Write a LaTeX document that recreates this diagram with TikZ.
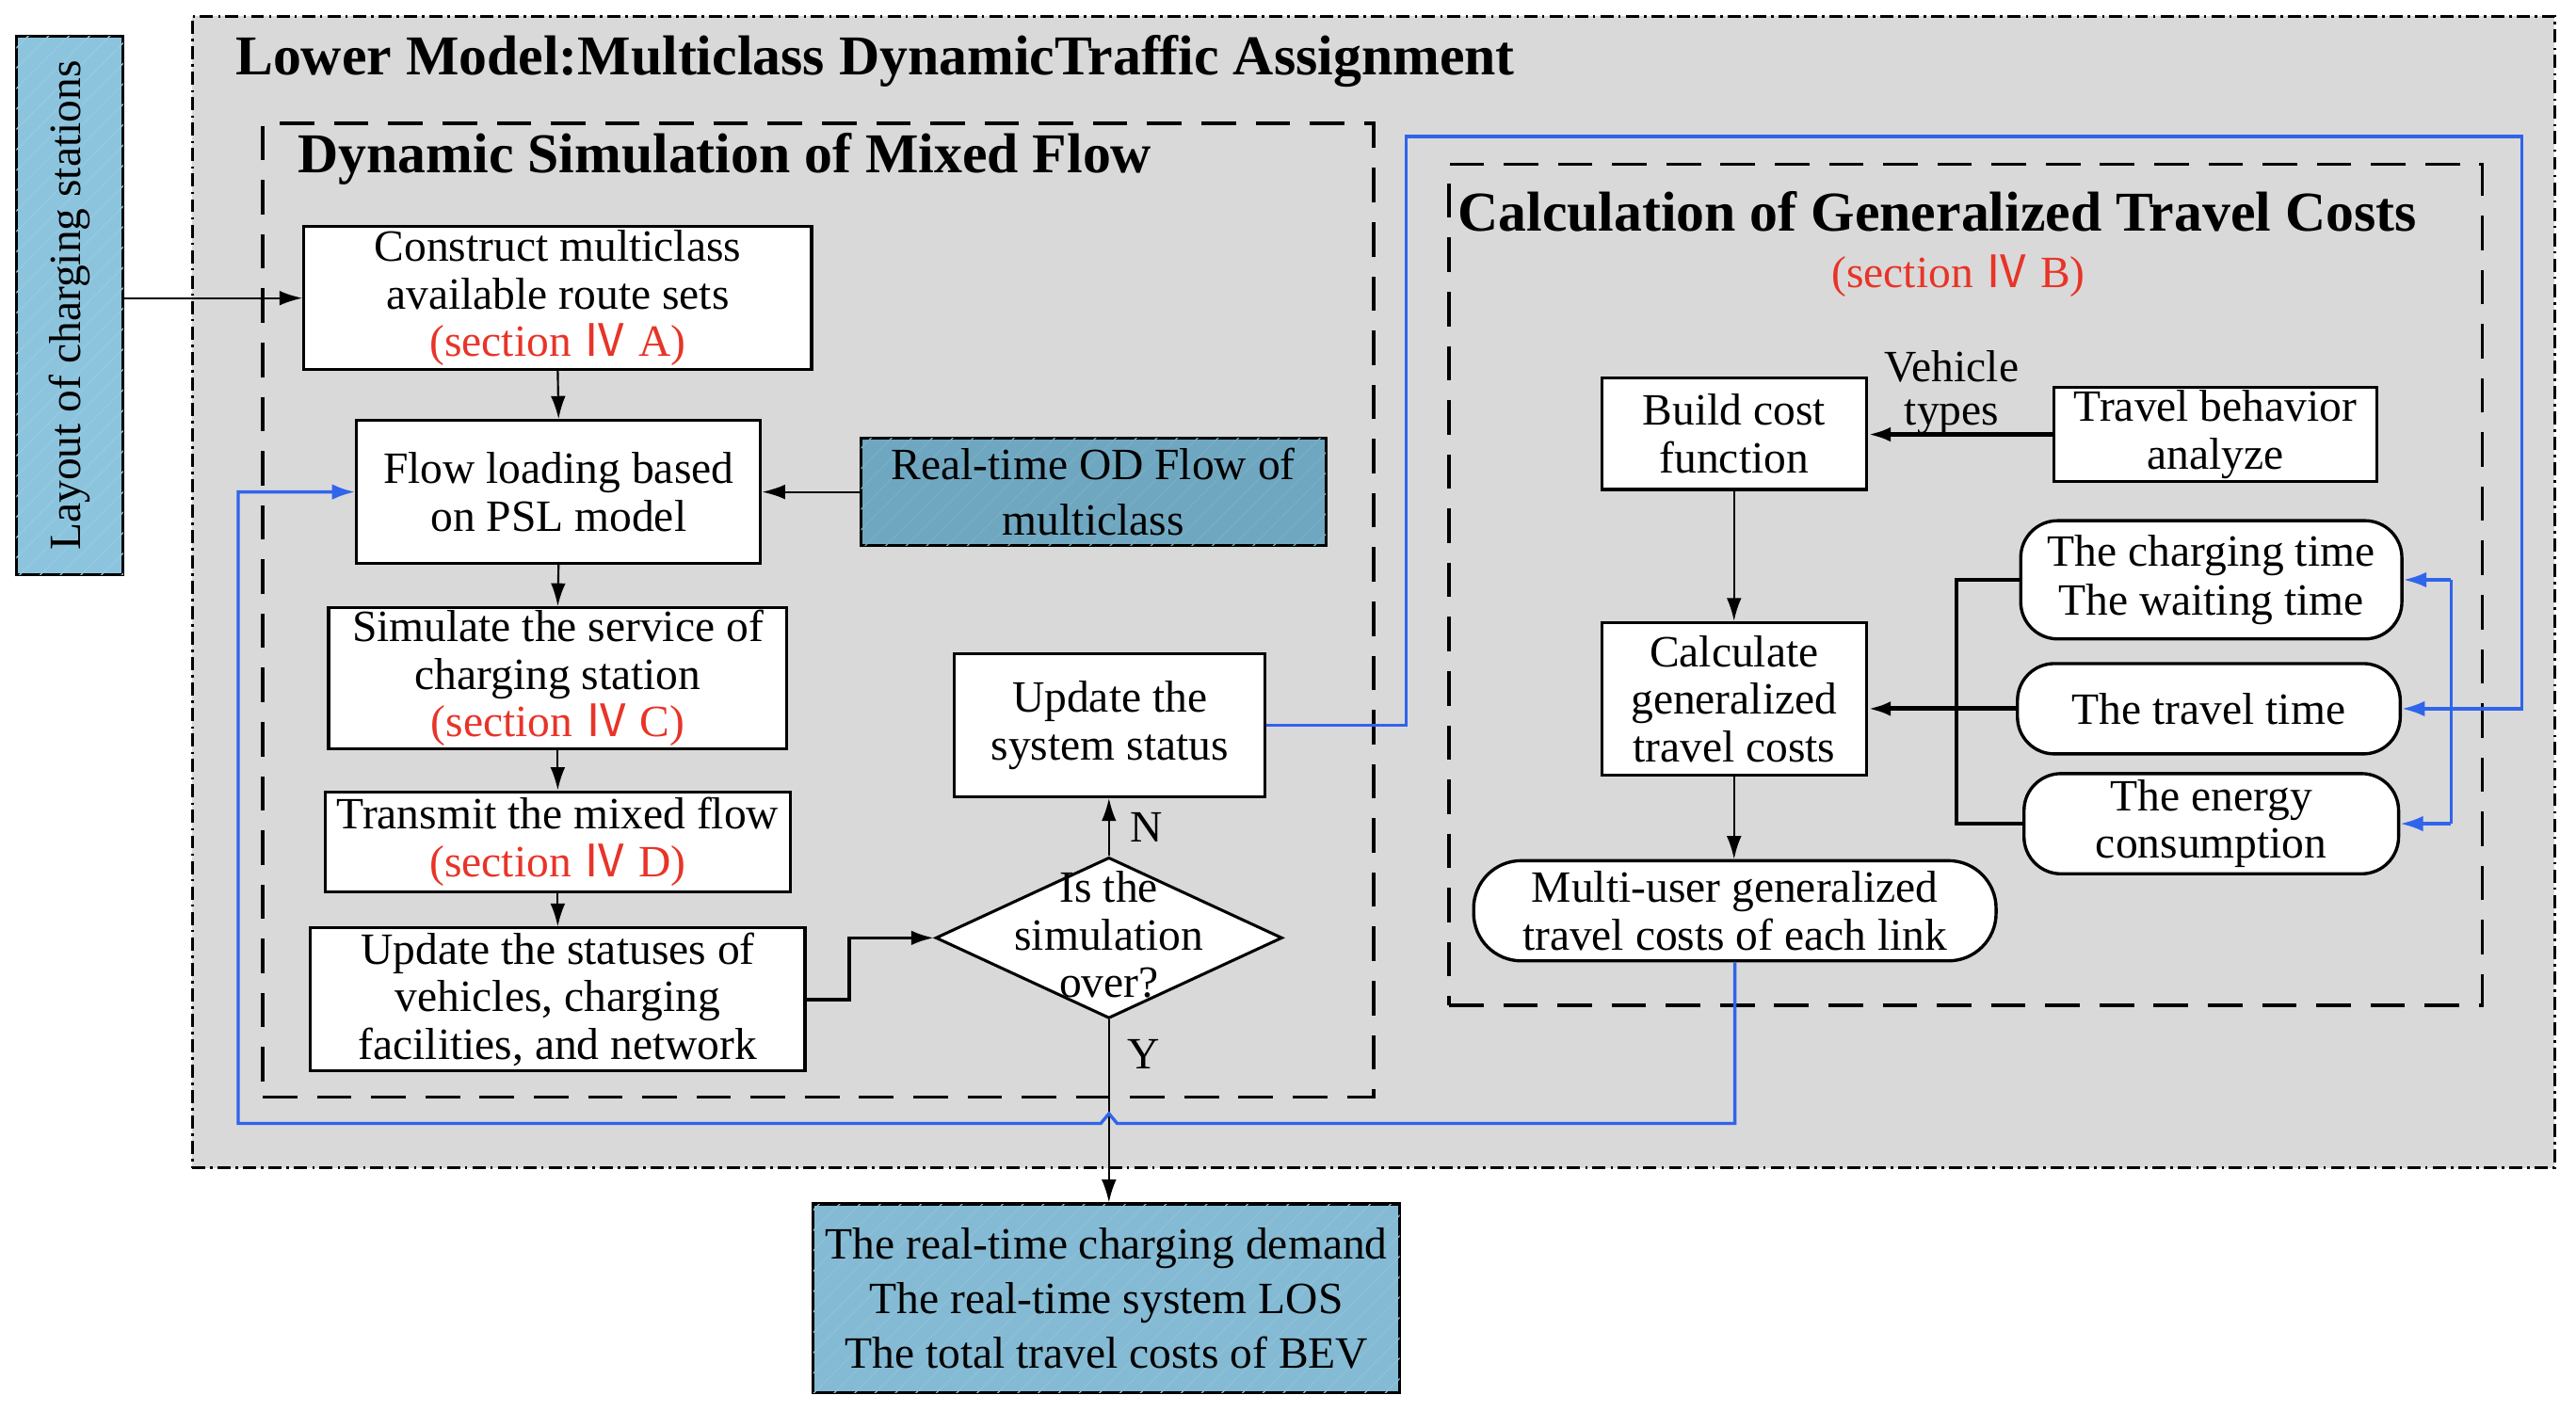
\documentclass[tikz,border=0pt]{standalone}
\usepackage{fontspec}
\setmainfont{Liberation Serif}
\newfontfamily\cjk{Noto Sans CJK SC}
\usetikzlibrary{arrows.meta,shapes.geometric,patterns.meta}
\definecolor{bgray}{RGB}{217,217,217}
\definecolor{lblue}{RGB}{140,196,222}
\definecolor{lhatch}{RGB}{150,202,226}
\definecolor{dblue}{RGB}{112,167,192}
\definecolor{dhatch}{RGB}{120,174,198}
\definecolor{oblue}{RGB}{132,186,211}
\definecolor{ohatch}{RGB}{142,193,216}
\definecolor{lineblue}{RGB}{48,100,235}
\definecolor{secred}{RGB}{232,52,40}
\newcommand{\secref}[1]{\textcolor{secred}{(section {\cjk Ⅳ} #1)}}
\tikzset{
  sz/.style 2 args={minimum width=#1*0.02cm, minimum height=#2*0.02cm},
  box/.style={draw, line width=1pt, fill=white},
  rbox/.style={draw, line width=1.1pt, fill=white, rounded corners=0.45cm},
  hatched/.style 2 args={draw, line width=1pt, fill=#1,
     postaction={pattern={Lines[angle=45,distance=5pt,line width=0.4pt]}, pattern color=#2}},
  arr/.style={-{Latex[length=0.28cm,width=0.18cm]}, line width=0.7pt},
  barr/.style={-{Latex[length=0.28cm,width=0.19cm]}, line width=1.1pt, draw=lineblue},
  frame/.style={draw, line width=1.2pt, dash pattern=on 0.42cm off 0.24cm},
  titlef/.style={font=\bfseries\fontsize{19.5}{22}\selectfont},
}
\begin{document}
\begin{tikzpicture}[x=0.02cm, y=-0.02cm,
  every node/.style={font=\fontsize{15.5}{16.5}\selectfont, inner sep=0pt, align=center}]
\useasboundingbox (0,0) rectangle (1568,859);

% outer frame
\node[draw, fill=bgray, line width=1pt, dash pattern=on 0.16cm off 0.06cm on 0.03cm off 0.06cm,
      sz={1438}{701}] (outer) at (836,360.5) {};
\node[titlef, anchor=west] (t1) at (143,37) {Lower Model:Multiclass DynamicTraffic Assignment};

% sub frames
\node[frame, sz={676}{593}] (lf) at (498,371.5) {};
\node[titlef, anchor=west] (t2) at (181,97) {Dynamic Simulation of Mixed Flow};
\node[frame, sz={629}{512}] (rf) at (1196.5,356) {};
\node[titlef, anchor=west] (t3) at (887,129) {Calculation of Generalized Travel Costs};
\node[text=secred] (t3b) at (1192,168) {(section {\cjk Ⅳ} B)};

% layout box
\node[hatched={lblue}{lhatch}, sz={65}{328}] (lay) at (42.5,186) {};
\node[rotate=90] (layt) at (42.5,186) {Layout of charging stations};

% left column
\node[box, sz={309}{87}] (cons) at (339.5,181.5) {Construct multiclass\\available route sets\\\secref{A}};
\node[box, sz={246}{87}] (fl) at (340,299.5) {Flow loading based\\on PSL model};
\node[hatched={dblue}{dhatch}, sz={283}{65}, font=\fontsize{15.5}{19}\selectfont] (od) at (665.5,299.5) {Real-time OD Flow of\\multiclass};
\node[box, sz={279}{86}] (sim) at (339.5,413) {Simulate the service of\\charging station\\\secref{C}};
\node[box, sz={283}{61}] (tr) at (339.5,512.5) {Transmit the mixed flow\\\secref{D}};
\node[box, sz={301}{87}] (us) at (339.5,608.5) {Update the statuses of\\vehicles, charging\\facilities, and network};
\node[draw, fill=white, line width=1pt, diamond, sz={211}{98}] (dia) at (675,571) {};
\node (diat) at (675,569) {Is the\\simulation\\over?};
\node[box, sz={189}{87}] (upd) at (675.5,441.5) {Update the\\system status};
\node[hatched={oblue}{ohatch}, sz={357}{115}, font=\fontsize{15.5}{19}\selectfont] (out) at (673.5,790.5)
  {The real-time charging demand\\The real-time system LOS\\The total travel costs of BEV};

% right part
\node[box, sz={161}{68}] (bc) at (1055.5,264) {Build cost\\function};
\node[box, sz={197}{57}] (tb) at (1348.5,264.5) {Travel behavior\\analyze};
\node[font=\fontsize{15.5}{15}\selectfont] (vt) at (1188,239) {Vehicle\\types};
\node[box, sz={161}{93}] (calc) at (1055.5,425.5) {Calculate\\generalized\\travel costs};
\node[rbox, rounded corners=0.58cm, sz={318}{61}] (mu) at (1056,554.5) {Multi-user generalized\\travel costs of each link};
\node[rbox, sz={232}{72}, font=\fontsize{15.5}{17}\selectfont] (ct) at (1346,353) {The charging time\\The waiting time};
\node[rbox, sz={233}{55}] (tt) at (1344.5,431.5) {The travel time};
\node[rbox, sz={228}{61}] (en) at (1346,501.5) {The energy\\consumption};

% black connectors
\draw[arr] (cons.west -| lay.east) -- (cons.west);
\draw[arr] (cons.south) -- (fl.north);
\draw[arr] (od.west) -- (fl.east);
\draw[arr] (fl.south) -- (sim.north);
\draw[arr] (sim.south) -- (tr.north);
\draw[arr] (tr.south) -- (us.north);
\draw[arr, line width=1.2pt] (us.east) -- (517,608.5) |- (dia.west);
\draw[arr] (dia.north) -- (dia.north |- upd.south) node[pos=0.5, right=7pt] (nlab) {N};
\draw[arr] (dia.south) -- (dia.south |- out.north);
\node (ylab) at (696,642) {Y};
\draw[arr, line width=1.6pt] (tb.west) -- (tb.west -| bc.east);
\draw[arr] (bc.south) -- (calc.north);
\draw[arr] (calc.south) -- (calc.south |- mu.north);
\draw[line width=1.2pt] (ct.west) -- (1191,353) -- (1191,501.5) -- (en.west);
\draw[arr, line width=1.6pt] (tt.west) -- (tt.west -| calc.east);

% blue connectors
\coordinate (bj1) at (1492,353);
\coordinate (bj2) at (1492,501.5);
\draw[barr] (upd.east) -- (856,441.5) -- (856,83) -- (1535,83) -- (1535,431.5) -- (tt.east);
\draw[barr] (bj1) -- (ct.east);
\draw[barr] (bj2) -- (en.east);
\draw[line width=1.1pt, draw=lineblue] (bj1) -- (bj2);
\draw[barr] (mu.south) -- (1056,684) -- (680,684) -- (675,678) -- (670,684) -- (145,684) -- (145,299.5) -- (fl.west);
\end{tikzpicture}
\end{document}
